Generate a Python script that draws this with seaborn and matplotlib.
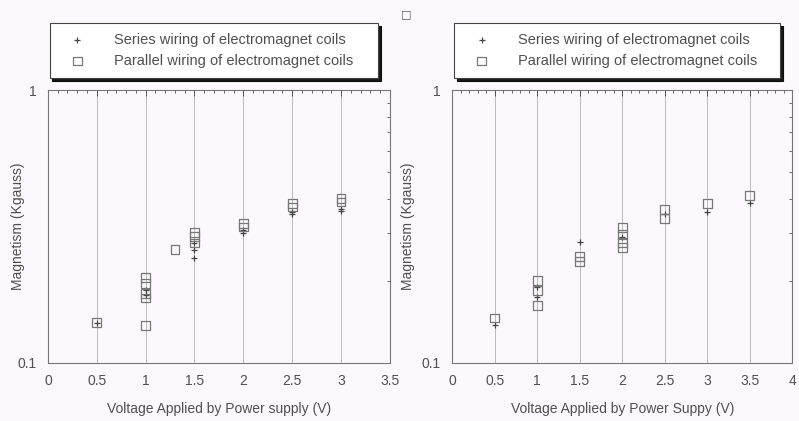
import matplotlib
matplotlib.use("Agg")
import matplotlib.pyplot as plt
import matplotlib.ticker as mticker
import seaborn as sns
import pandas as pd

sns.set_style("white")
plt.rcParams['font.family'] = ['Liberation Sans', 'DejaVu Sans']

# data: (voltage, magnetism in Kgauss)
left_series_x = [0.5, 1, 1, 1.5, 1.5, 1.5, 2, 2, 2.5, 2.5, 3, 3]
left_series_y = [0.14, 0.185, 0.178, 0.275, 0.26, 0.243, 0.308, 0.30, 0.357, 0.35, 0.366, 0.36]
left_parallel_x = [0.5, 1, 1, 1, 1, 1, 1.3, 1.5, 1.5, 1.5, 2, 2, 2.5, 2.5, 3, 3]
left_parallel_y = [0.141, 0.206, 0.196, 0.18, 0.173, 0.137, 0.26, 0.30, 0.29, 0.275,
                   0.325, 0.315, 0.385, 0.373, 0.40, 0.389]

right_series_x = [0.5, 1, 1, 1.5, 2, 2.5, 3, 3.5]
right_series_y = [0.138, 0.19, 0.175, 0.277, 0.29, 0.35, 0.357, 0.385]
right_parallel_x = [0.5, 1, 1, 1, 1.5, 1.5, 2, 2, 2, 2, 2.5, 2.5, 3, 3.5]
right_parallel_y = [0.146, 0.20, 0.184, 0.162, 0.245, 0.235, 0.314, 0.296, 0.277, 0.264,
                    0.365, 0.338, 0.383, 0.41]

series_label = "Series wiring of electromagnet coils"
parallel_label = "Parallel wiring of electromagnet coils"
xlabels = ["Voltage Applied by Power supply (V)", "Voltage Applied by Power Suppy (V)"]
xmax = [3.5, 4]

bg = "#fdf8fd"
ink = "#505050"

fig = plt.figure(figsize=(7.99, 4.21), dpi=100, facecolor=bg)
ax1 = fig.add_axes([0.060, 0.138, 0.428, 0.648])
ax2 = fig.add_axes([0.566, 0.138, 0.4255, 0.648])

panels = [
    (ax1, left_series_x, left_series_y, left_parallel_x, left_parallel_y, -0.066, 0.96),
    (ax2, right_series_x, right_series_y, right_parallel_x, right_parallel_y, -0.11, 0.96),
]

for i, (ax, sx, sy, px, py, ylab_x, leg_w) in enumerate(panels):
    ax.set_facecolor(bg)
    df_s = pd.DataFrame({'V': sx, 'M': sy})
    df_p = pd.DataFrame({'V': px, 'M': py})
    sns.scatterplot(data=df_s, x='V', y='M', ax=ax, marker='+', s=25,
                    color='#444444', linewidth=0.9, label=series_label, zorder=3)
    sns.scatterplot(data=df_p, x='V', y='M', ax=ax, marker='s', s=40,
                    facecolors='none', edgecolor='#777777', linewidth=0.9,
                    label=parallel_label, zorder=3)
    ax.set_yscale('log')
    ax.set_ylim(0.1, 1)
    ax.set_xlim(0, xmax[i])
    ax.xaxis.set_major_locator(mticker.MultipleLocator(0.5))
    ax.xaxis.set_minor_locator(mticker.MultipleLocator(0.1))
    ax.xaxis.set_major_formatter(mticker.FuncFormatter(lambda v, p: f"{v:g}"))
    ax.yaxis.set_major_locator(mticker.FixedLocator([0.1, 1]))
    ax.yaxis.set_major_formatter(mticker.FixedFormatter(['0.1', '1']))
    ax.yaxis.set_minor_locator(mticker.LogLocator(base=10, subs=range(2, 10)))
    ax.yaxis.set_minor_formatter(mticker.NullFormatter())
    ax.tick_params(which='both', direction='in', top=True, right=True,
                   colors=ink, labelsize=10, pad=8)
    ax.tick_params(which='major', length=4, width=0.7)
    ax.tick_params(which='minor', length=2.5, width=0.6)
    ax.grid(True, axis='x', which='major', color='#bbbbbb', linewidth=0.7)
    for sp in ax.spines.values():
        sp.set_color('#777777')
        sp.set_linewidth(0.8)
    ax.set_xlabel(xlabels[i], color=ink, fontsize=10, labelpad=10)
    ax.set_ylabel("Magnetism (Kgauss)", color=ink, fontsize=10)
    ax.yaxis.set_label_coords(ylab_x, 0.5)
    leg = ax.legend(loc='lower left', bbox_to_anchor=(0.005, 1.044, leg_w, 0.2),
                    mode='expand', frameon=True, fancybox=False,
                    shadow={'color': 'black', 'alpha': 0.9},
                    fontsize=10.5, handletextpad=1.3, borderpad=0.7,
                    labelspacing=0.45, borderaxespad=0, handlelength=2.4)
    leg.get_frame().set_edgecolor('#444444')
    leg.get_frame().set_facecolor('white')
    leg.get_frame().set_linewidth(0.8)
    for t in leg.get_texts():
        t.set_color(ink)

fig.text(0.508, 0.965, "\u25a1", fontsize=8, color='#555555',
         family=['DejaVu Sans'], ha='center', va='center')

fig.savefig("out.png", dpi=100, facecolor=bg)
